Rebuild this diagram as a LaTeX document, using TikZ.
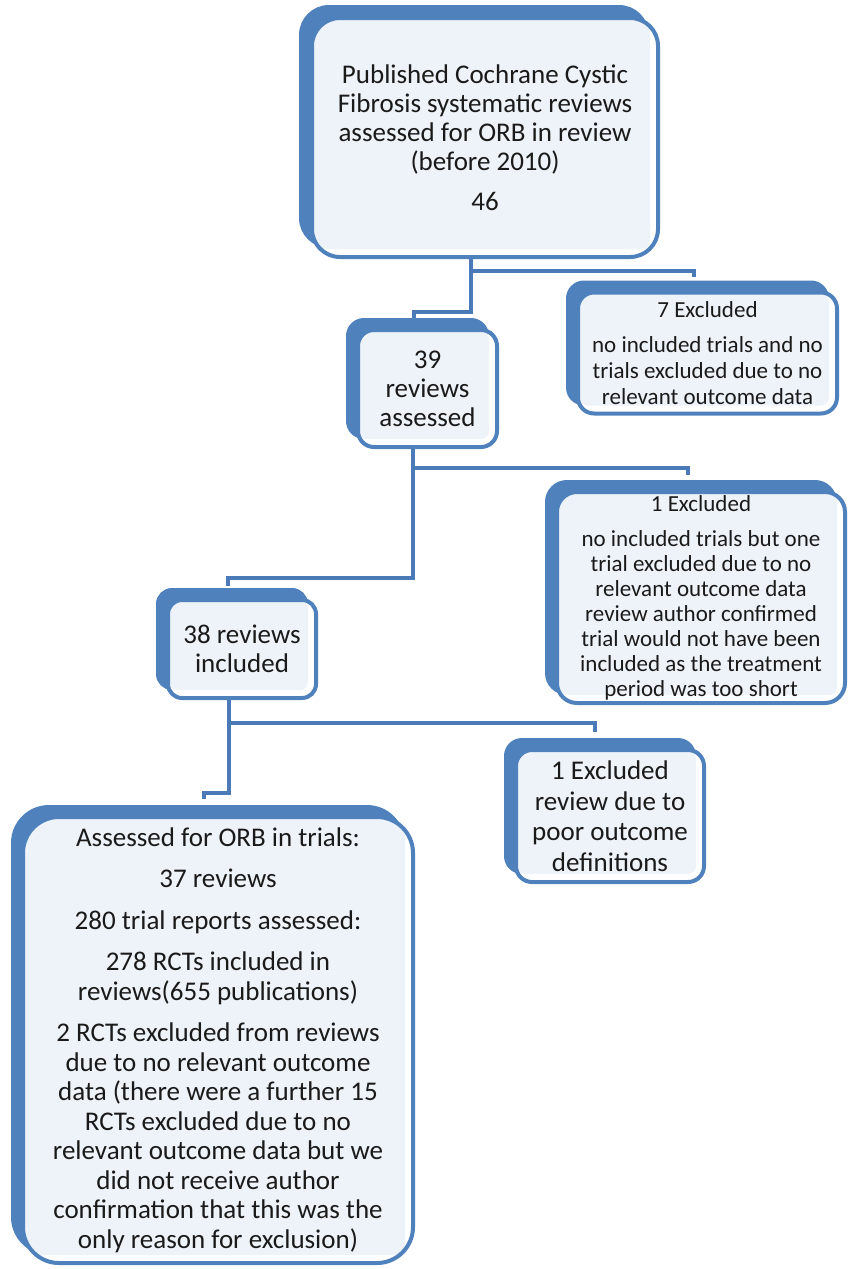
\documentclass[tikz,border=0pt]{standalone}
\usepackage{fontspec}
\setmainfont{Carlito}
\usetikzlibrary{shadows}
\definecolor{boxblue}{HTML}{4F81BD}
\definecolor{connblue}{HTML}{4A7AB7}
\definecolor{boxfill}{HTML}{EEF2F9}
\definecolor{inktext}{HTML}{1A1A1A}
\begin{document}
\begin{tikzpicture}[x=1pt,y=-1pt,
  flowbox/.style={draw=boxblue, line width=4pt, fill=white, align=center, inner sep=0pt, text=inktext,
    path picture={\fill[boxfill, rounded corners=8pt] ([xshift=1pt,yshift=-1pt]path picture bounding box.north west) rectangle ([xshift=-8pt,yshift=8pt]path picture bounding box.south east);}},
  boxshadow/.style={copy shadow={shadow xshift=-#1pt, shadow yshift=#1pt, fill=boxblue, draw=boxblue}},
  conn/.style={draw=connblue, line width=4.5pt, line join=miter}
]
\useasboundingbox (0,0) rectangle (851,1269);

\node[flowbox, boxshadow=11, rounded corners=28pt, minimum width=346pt, minimum height=239pt,
  font=\fontsize{27pt}{29pt}\selectfont] (top) at (485,137.5)
  {Published Cochrane Cystic\\Fibrosis systematic reviews\\assessed for ORB in review\\(before 2010)\\[11pt]46};

\node[flowbox, boxshadow=10, rounded corners=16pt, minimum width=259pt, minimum height=121pt,
  font=\fontsize{23pt}{26pt}\selectfont] (ex7) at (707.5,353)
  {7 Excluded\\[9pt]no included trials and no\\trials excluded due to no\\relevant outcome data};

\node[flowbox, boxshadow=10, rounded corners=16pt, minimum width=139pt, minimum height=117pt,
  font=\fontsize{27pt}{29pt}\selectfont] (r39) at (427.5,388.5)
  {39\\reviews\\assessed};

\node[flowbox, boxshadow=10, rounded corners=20pt, minimum width=288pt, minimum height=211pt,
  font=\fontsize{23pt}{25pt}\selectfont] (ex1) at (701,597.5)
  {1 Excluded\\[10pt]no included trials but one\\trial excluded due to no\\relevant outcome data\\review author confirmed\\trial would not have been\\included as the treatment\\period was too short};

\node[flowbox, boxshadow=10, rounded corners=14pt, minimum width=148pt, minimum height=98pt,
  font=\fontsize{27pt}{29pt}\selectfont] (r38) at (242,649)
  {38 reviews\\included};

\node[flowbox, boxshadow=10, rounded corners=16pt, minimum width=188pt, minimum height=132pt,
  font=\fontsize{27pt}{30.5pt}\selectfont] (ex1b) at (610,816)
  {1 Excluded\\review due to\\poor outcome\\definitions};

\node[flowbox, boxshadow=10, rounded corners=36pt, minimum width=390pt, minimum height=446pt,
  font=\fontsize{27pt}{29.5pt}\selectfont] (assess) at (218,1040)
  {Assessed for ORB in trials:\\[12pt]37 reviews\\[12pt]280 trial reports assessed:\\[12pt]278 RCTs included in\\reviews(655 publications)\\[12pt]2 RCTs excluded from reviews\\due to no relevant outcome\\data (there were a further 15\\RCTs excluded due to no\\relevant outcome data but we\\did not receive author\\confirmation that this was the\\only reason for exclusion)};

\coordinate (k1) at (471,312); \coordinate (b1) at (471,271);
\coordinate (e7) at (694,277); \coordinate (t39) at (414,318);
\draw[conn] (top.south -| k1) -- (k1) -| (t39);
\draw[conn] (b1) -| (e7);

\coordinate (k2) at (413,578); \coordinate (b2) at (413,468);
\coordinate (e1) at (688,475); \coordinate (t38) at (228,586);
\draw[conn] (r39.south -| k2) -- (k2) -| (t38);
\draw[conn] (b2) -| (e1);

\coordinate (k3) at (229,793); \coordinate (b3) at (229,723);
\coordinate (e2) at (595,732); \coordinate (tb) at (204,799);
\draw[conn] (r38.south -| k3) -- (k3) -| (tb);
\draw[conn] (b3) -| (e2);
\end{tikzpicture}
\end{document}
